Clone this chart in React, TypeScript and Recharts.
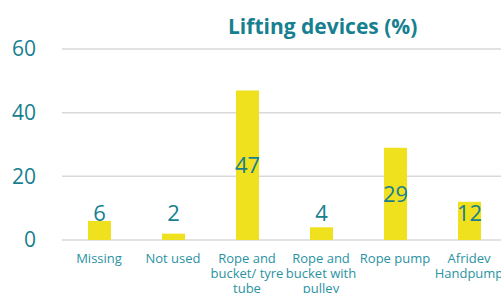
import { BarChart, Bar, XAxis, YAxis, CartesianGrid, LabelList, Text } from "recharts";

const categories = ["Missing", "Not used", "Rope and bucket/ tyre tube", "Rope and bucket with pulley", "Rope pump", "Afridev Handpump"];
const percents = [6, 2, 47, 4, 29, 12];
const yTicks = [0, 20, 40, 60];

const TEAL = "#177f8f";
const FONT = "'Open Sans', Lato, sans-serif";

const data = categories.map((name, i) => ({ name, value: percents[i] }));

function CategoryTick(props: any) {
  const { x, y, payload } = props;
  return (
    <Text
      x={x}
      y={y}
      width={76}
      textAnchor="middle"
      verticalAnchor="start"
      lineHeight={15}
      fontSize={13}
      fontFamily={FONT}
      fill="#2a93a2"
    >
      {payload.value}
    </Text>
  );
}

function ValueLabel(props: any) {
  const { x, y, width, height, value } = props;
  // centred in the bar, but never lower than just above the short bars
  const cy = Math.min(y + height / 2, 213);
  return (
    <text
      x={x + width / 2}
      y={cy}
      dy={8}
      textAnchor="middle"
      fontSize={22}
      fontFamily={FONT}
      fill={TEAL}
    >
      {value}
    </text>
  );
}

export default function App() {
  return (
    <div style={{ position: "absolute", left: 0, top: 0, width: 501, height: 293, overflow: "hidden", background: "#fff" }}>
      <div
        style={{
          position: "absolute",
          left: 228,
          top: 12,
          width: 184,
          textAlign: "center",
          fontFamily: FONT,
          fontWeight: 700,
          fontSize: 21,
          color: TEAL,
          whiteSpace: "nowrap",
        }}
      >
        Lifting devices (%)
      </div>
      <BarChart width={506} height={293} data={data} margin={{ top: 49, right: 0, bottom: 0, left: 0 }}>
        <CartesianGrid horizontal vertical={false} stroke="#d9d9d9" strokeWidth={1.5} />
        <XAxis
          dataKey="name"
          axisLine={false}
          tickLine={false}
          interval={0}
          height={53}
          tick={<CategoryTick />}
          tickMargin={8}
        />
        <YAxis
          domain={[0, 60]}
          ticks={yTicks}
          width={62}
          axisLine={false}
          tickLine={false}
          tickMargin={20}
          tick={{ fill: TEAL, fontSize: 21, fontFamily: FONT }}
        />
        <Bar dataKey="value" fill="#f0e11e" barSize={23} isAnimationActive={false}>
          <LabelList dataKey="value" content={<ValueLabel />} />
        </Bar>
      </BarChart>
    </div>
  );
}
